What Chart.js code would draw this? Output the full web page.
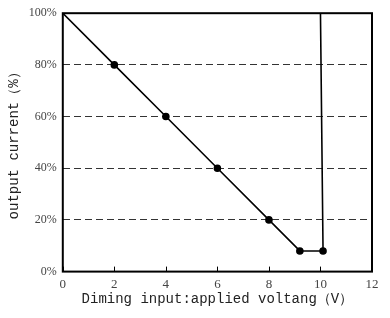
<!DOCTYPE html>
<html>
<head>
<meta charset="utf-8">
<script src="https://cdn.jsdelivr.net/npm/chart.js@4"></script>
<style>
  html, body { margin: 0; padding: 0; background: #fff; }
  #wrap { width: 390px; height: 318px; }
</style>
</head>
<body>
<div id="wrap"><canvas id="dimChart" width="390" height="318"></canvas></div>
<script>
// values
const voltage = [0, 2, 4, 6, 8, 9.2, 10.1, 10.0];
const current = [100, 80, 60, 40, 20, 8, 8, 100];
const markerSize = [0, 3, 3, 3, 3, 3, 3, 0];
const xTicks = [0, 2, 4, 6, 8, 10, 12];
const yTicks = [0, 20, 40, 60, 80, 100];

document.addEventListener('DOMContentLoaded', function() {
    const ctx = document.getElementById('dimChart').getContext('2d');

    // frame round the plot plus small inward ticks on the x axis
    const framePlugin = {
        id: 'frame',
        afterDatasetsDraw(chart) {
            const a = chart.chartArea;
            const c = chart.ctx;
            const xs = chart.scales.x;
            c.save();
            c.strokeStyle = '#000';
            c.lineWidth = 1;
            xTicks.forEach(function(v) {
                const px = Math.round(xs.getPixelForValue(v)) + 0.5;
                c.beginPath();
                c.moveTo(px, a.bottom);
                c.lineTo(px, a.bottom - 5);
                c.stroke();
            });
            c.lineWidth = 2;
            c.strokeRect(a.left, a.top, a.right - a.left, a.bottom - a.top);
            c.restore();
        }
    };

    new Chart(ctx, {
        type: 'scatter',
        data: {
            datasets: [{
                data: voltage.map(function(v, i) { return { x: v, y: current[i] }; }),
                showLine: true,
                borderColor: '#000',
                backgroundColor: '#000',
                borderWidth: 1.6,
                pointRadius: markerSize,
                pointHoverRadius: markerSize,
                tension: 0
            }]
        },
        options: {
            responsive: false,
            animation: false,
            layout: { padding: { top: 12, right: 18, left: 6, bottom: 6 } },
            plugins: { legend: { display: false }, tooltip: { enabled: false } },
            scales: {
                x: {
                    type: 'linear',
                    min: 0,
                    max: 12,
                    afterBuildTicks: function(s) { s.ticks = xTicks.map(function(v) { return { value: v }; }); },
                    grid: { display: false, drawTicks: false },
                    border: { display: false },
                    ticks: {
                        color: '#444',
                        padding: 5,
                        font: { family: 'Liberation Serif', size: 13 },
                        maxRotation: 0
                    },
                    title: {
                        display: true,
                        text: 'Diming input:applied voltang（V）',
                        color: '#222',
                        font: { family: 'Liberation Mono', size: 14 },
                        padding: { top: -6, bottom: 4 }
                    }
                },
                y: {
                    min: 0,
                    max: 100,
                    afterBuildTicks: function(s) { s.ticks = yTicks.map(function(v) { return { value: v }; }); },
                    grid: {
                        color: '#333',
                        lineWidth: 1,
                        drawTicks: false
                    },
                    border: { display: false, dash: [7, 4] },
                    ticks: {
                        color: '#444',
                        padding: 6,
                        font: { family: 'Liberation Serif', size: 12 },
                        callback: function(v) { return v + '%'; }
                    },
                    title: {
                        display: true,
                        text: 'output current（%）',
                        color: '#222',
                        font: { family: 'Liberation Mono', size: 14 },
                        padding: { top: 0, bottom: 0 }
                    }
                }
            }
        },
        plugins: [framePlugin]
    });
});
</script>
</body>
</html>
